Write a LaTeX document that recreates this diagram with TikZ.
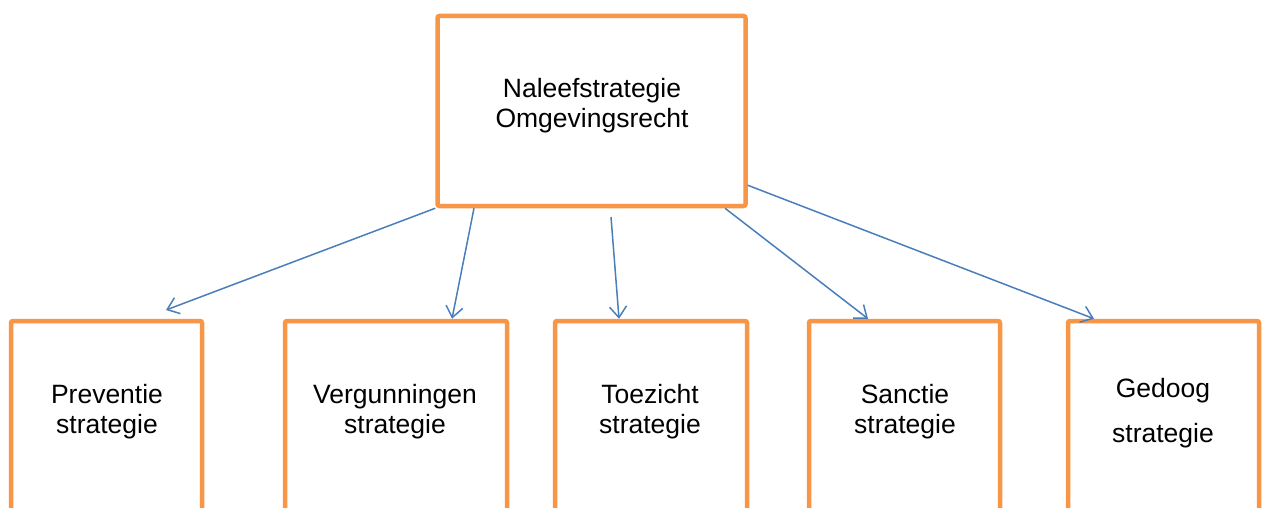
\documentclass[tikz,border=0pt]{standalone}
\usepackage{fontspec}
\setmainfont{Liberation Sans}
\usetikzlibrary{arrows.meta}
\definecolor{boxorange}{HTML}{F79646}
\definecolor{arrowblue}{HTML}{4A7EBB}
\tikzset{
  obox/.style={draw=boxorange, line width=4.5pt, rectangle, rounded corners=2pt, fill=white},
  lbl/.style={align=center, inner sep=0pt, font=\fontsize{26.5}{30}\selectfont},
  conn/.style={draw=arrowblue, line width=1.5pt, -{Straight Barb[length=11pt,width=17pt,line width=1.5pt]}},
}
\begin{document}
\begin{tikzpicture}[x=1pt,y=-1pt]
\useasboundingbox (0,0) rectangle (1265,508);
\begin{scope}
\clip (0,0) rectangle (1265,508);
\node[obox, minimum width=308pt, minimum height=190pt] (top) at (591.5,111) {};
\node[obox, minimum width=191pt, minimum height=219pt] (b1) at (106.5,430.5) {};
\node[obox, minimum width=222pt, minimum height=219pt] (b2) at (396,430.5) {};
\node[obox, minimum width=192pt, minimum height=219pt] (b3) at (651,430.5) {};
\node[obox, minimum width=191pt, minimum height=219pt] (b4) at (904.5,430.5) {};
\node[obox, minimum width=191pt, minimum height=219pt] (b5) at (1163.5,430.5) {};
\end{scope}
\node[lbl] (ttop) at (592,106) {Naleefstrategie\\Omgevingsrecht};
\node[lbl] (t1) at (107,412) {Preventie\\strategie};
\node[lbl] (t2) at (395,412) {Vergunningen\\strategie};
\node[lbl] (t3) at (650,412) {Toezicht\\strategie};
\node[lbl] (t4) at (905,412) {Sanctie\\strategie};
\node[lbl] (t5) at (1163,413) {Gedoog\\[15pt]strategie};
\draw[conn] (top.south west) -- ([xshift=157.25pt,yshift=8.75pt]b1.north west);
\draw[conn] ([xshift=38.75pt]top.south west) -- ([xshift=169.25pt]b2.north west);
\draw[conn] ([xshift=175.75pt,yshift=-8.75pt]top.south west) -- ([xshift=66.25pt]b3.north west);
\draw[conn] ([xshift=289.75pt]top.south west) -- ([xshift=61.25pt]b4.north west);
\draw[conn] ([yshift=23pt]top.south east) -- ([xshift=28.25pt]b5.north west);
\end{tikzpicture}
\end{document}
